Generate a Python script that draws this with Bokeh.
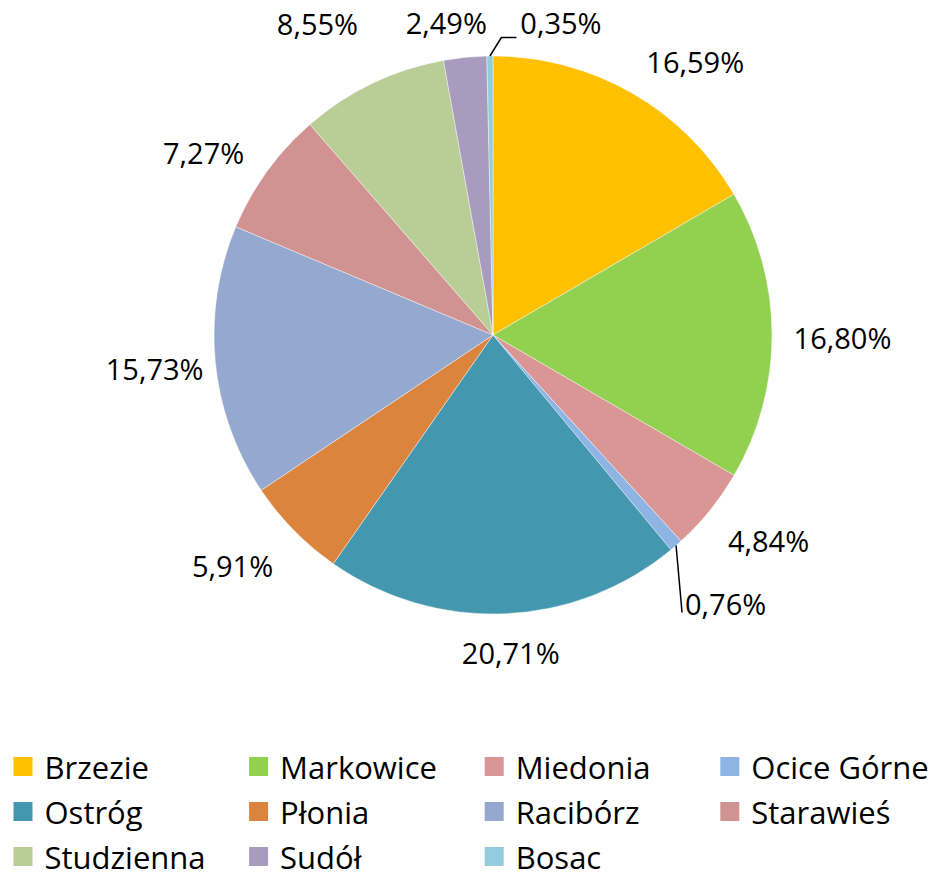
import math
from bokeh.plotting import figure
from bokeh.models import Range1d, ColumnDataSource
from bokeh.core.properties import value
from bokeh.embed import file_html
from bokeh.resources import INLINE

# ---------------- data ----------------
categories = ["Brzezie", "Markowice", "Miedonia", "Ocice Górne", "Ostróg", "Płonia",
              "Racibórz", "Starawieś", "Studzienna", "Sudół", "Bosac"]
shares = [16.59, 16.80, 4.84, 0.76, 20.71, 5.91, 15.73, 7.27, 8.55, 2.49, 0.35]
colors = ["#FFC000", "#92D050", "#D99694", "#8EB4E3", "#4398B0", "#DB843D",
          "#95A9D0", "#D19392", "#B9CD96", "#A99BBD", "#93CDDD"]

# ---------------- layout / style ----------------
W, H = 936, 877
CX, CY_SCREEN, R = 492.5, 334.5, 279.0
CY = H - CY_SCREEN
FONT = "Open Sans"
LABEL_SIZE = 29
LEGEND_SIZE = 31
# label placement: angular nudge (deg, clockwise) and radial distance
label_dtheta = [6.64, 0.44, -2.2, 0.1, -0.84, 2.94, -0.2, -3.7, -3.8, -2.76, 12.9]
label_r = [340, 349.5, 343.7, 355.2, 318, 347.8, 340, 342, 357.5, 316, 319.8]
leader_items = {"Ocice Górne": "down", "Bosac": "elbow"}

p = figure(width=W, height=H, output_backend="svg", toolbar_location=None,
           x_range=Range1d(0, W), y_range=Range1d(0, H),
           x_axis_location=None, y_axis_location=None, min_border=0)
p.grid.visible = False
p.outline_line_color = None
p.background_fill_color = "white"
p.border_fill_color = "white"

total = sum(shares)
cum = [0.0]
for s in shares:
    cum.append(cum[-1] + s / total)
start = [math.pi / 2 - 2 * math.pi * c for c in cum[:-1]]
end = [math.pi / 2 - 2 * math.pi * c for c in cum[1:]]

src = ColumnDataSource(dict(cat=categories, start=start, end=end, color=colors))
p.wedge(x=CX, y=CY, radius=R, start_angle="start", end_angle="end", direction="clock",
        fill_color="color", line_color="white", line_width=0.6, line_alpha=0.7, source=src)

# ---------------- data labels ----------------
def fmt(v):
    return f"{v:.2f}".replace(".", ",") + "%"

lx, ly, txt = [], [], []
for i, v in enumerate(shares):
    mid_deg = (cum[i] + cum[i + 1]) / 2 * 360.0 + label_dtheta[i]
    th = math.radians(mid_deg)
    x = CX + label_r[i] * math.sin(th)
    y = CY + label_r[i] * math.cos(th)
    lx.append(x); ly.append(y); txt.append(fmt(v))

    kind = leader_items.get(categories[i])
    if kind:
        mth = math.radians((cum[i] + cum[i + 1]) / 2 * 360.0)
        ex, ey = CX + R * math.sin(mth), CY + R * math.cos(mth)
        half_w = 0.5 * LABEL_SIZE * (0.572 * 3 + 0.25 + 0.83)
        left = x - half_w
        if kind == "down":
            p.line([ex, left - 3], [ey, y - 9], line_color="black", line_width=1.5)
        else:
            p.line([ex, left - 19, left - 4], [ey, y - 15, y - 15],
                   line_color="black", line_width=1.5)

p.text(x=lx, y=ly, text=txt, text_align="center", text_baseline="middle",
       text_font=value(FONT), text_font_size=f"{LABEL_SIZE}px", text_color="#000000")

# ---------------- legend ----------------
ncol = 4
col_w = 235.6
x0 = 13
row_y0 = 766
row_h = 45
sq = 19
sx, sy, tx, ty = [], [], [], []
for i, c in enumerate(categories):
    r, k = divmod(i, ncol)
    left = x0 + k * col_w
    yc = H - (row_y0 + r * row_h)
    sx.append(left + sq / 2); sy.append(yc)
    tx.append(left + 31); ty.append(yc)

p.rect(x=sx, y=sy, width=sq, height=sq, fill_color=colors, line_color=None)
p.text(x=tx, y=ty, text=categories, text_align="left", text_baseline="middle",
       text_font=value(FONT), text_font_size=f"{LEGEND_SIZE}px", text_color="#000000")

open("out.html", "w").write(file_html(p, INLINE))
